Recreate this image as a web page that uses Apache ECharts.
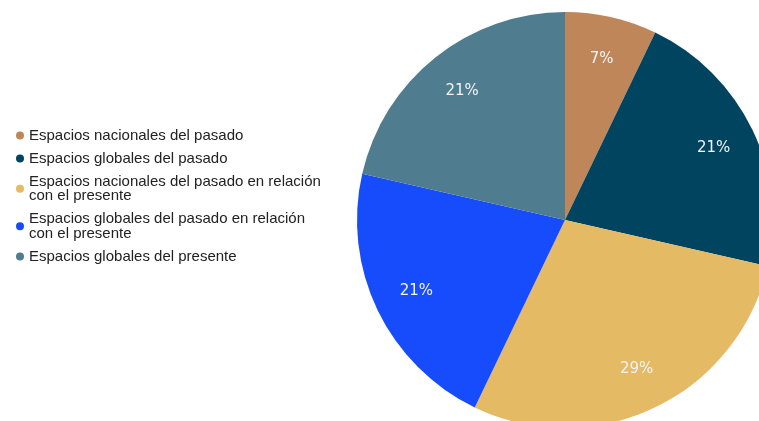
<!DOCTYPE html>
<html>
<head>
<meta charset="utf-8">
<script src="https://cdn.jsdelivr.net/npm/echarts@6/dist/echarts.min.js"></script>
<style>html,body{margin:0;padding:0;background:#fff}#c{width:759px;height:421px}</style>
</head>
<body>
<div id="c"></div>
<script>
const categories = [
  'Espacios nacionales del pasado',
  'Espacios globales del pasado',
  'Espacios nacionales del pasado en relación con el presente',
  'Espacios globales del pasado en relación con el presente',
  'Espacios globales del presente'
];
const legendLabels = [
  'Espacios nacionales del pasado',
  'Espacios globales del pasado',
  'Espacios nacionales del pasado en relación\ncon el presente',
  'Espacios globales del pasado en relación\ncon el presente',
  'Espacios globales del presente'
];
const values = [1, 3, 4, 3, 3];
const colors = ['#BF8759', '#00445F', '#E5BA65', '#164CFB', '#4F7C8E'];

const data = categories.map((n, i) => ({ name: n, value: values[i], itemStyle: { color: colors[i] } }));

const chart = echarts.init(document.getElementById('c'));
chart.setOption({
  animation: false,
  legend: {
    orient: 'vertical',
    left: 11,
    top: 123,
    icon: 'circle',
    itemWidth: 8,
    itemHeight: 8,
    itemGap: 8,
    data: categories,
    formatter: name => legendLabels[categories.indexOf(name)],
    textStyle: { fontFamily: 'Liberation Sans, Arial, sans-serif', fontSize: 15, color: '#222', lineHeight: 14.5 }
  },
  series: [
    {
      type: 'pie',
      center: [565, 220],
      radius: 208,
      startAngle: 90,
      clockwise: true,
      label: { show: false },
      labelLine: { show: false },
      emphasis: { disabled: true },
      data: data
    },
    {
      type: 'pie',
      center: [565, 220],
      radius: [116, 208],
      startAngle: 90,
      clockwise: true,
      silent: true,
      itemStyle: { color: 'rgba(0,0,0,0)' },
      label: {
        show: true,
        position: 'inside',
        formatter: p => Math.round(p.percent) + '%',
        color: '#f4f4f4',
        fontFamily: 'DejaVu Sans, sans-serif',
        fontSize: 15
      },
      labelLine: { show: false },
      emphasis: { disabled: true },
      data: categories.map((n, i) => ({ name: n, value: values[i], itemStyle: { color: 'rgba(0,0,0,0)' } }))
    }
  ]
});
</script>
</body>
</html>
